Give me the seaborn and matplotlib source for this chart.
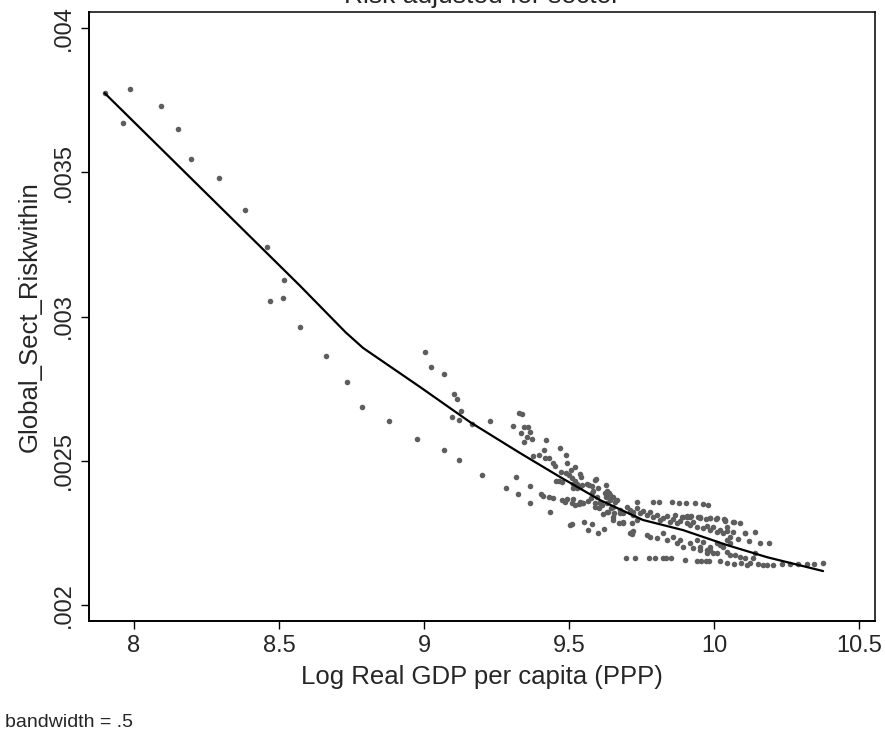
import matplotlib
matplotlib.use("Agg")
import matplotlib.pyplot as plt
import seaborn as sns
import pandas as pd

# scatter points: log real GDP per capita vs Global_Sect_Riskwithin
gdp = [
    7.899, 7.986, 7.962, 8.093, 8.153, 8.198, 8.293, 8.382, 8.459, 8.518,
    8.468, 8.515, 8.571, 8.662, 8.733, 8.785, 8.878, 8.976, 9.069, 9.122,
    9.201, 9.003, 9.023, 9.069, 9.104, 9.114, 9.128, 9.097, 9.122, 9.167,
    9.229, 9.283, 9.323, 9.318, 9.364, 9.364, 9.306, 9.329, 9.338, 9.336,
    9.346, 9.360, 9.367, 9.355, 9.372, 9.345, 9.422, 9.398, 9.376, 9.413,
    9.417, 9.431, 9.469, 9.490, 9.446, 9.452, 9.494, 9.522, 9.507, 9.471,
    9.490, 9.501, 9.538, 9.540, 9.454, 9.467, 9.477, 9.520, 9.513, 9.544,
    9.528, 9.570, 9.591, 9.580, 9.584, 9.599, 9.628, 9.402, 9.409, 9.432,
    9.446, 9.477, 9.493, 9.486, 9.515, 9.538, 9.533, 9.547, 9.521, 9.567,
    9.575, 9.590, 9.607, 9.591, 9.605, 9.615, 9.630, 9.637, 9.628, 9.641,
    9.653, 9.660, 9.644, 9.655, 9.632, 9.616, 9.653, 9.671, 9.436, 9.503,
    9.511, 9.551, 9.578, 9.567, 9.599, 9.622,
    9.509, 9.526, 9.538, 9.561, 9.593, 9.515, 9.578, 9.595, 9.607, 9.624,
    9.509, 9.544, 9.636, 9.653, 9.676, 9.685, 9.716, 9.717,
    9.653, 9.676, 9.687, 9.699, 9.710, 9.722, 9.733, 9.716, 9.687, 9.733,
    9.664, 9.630, 9.641, 9.630,
    9.710, 9.722, 9.733, 9.745, 9.756, 9.768, 9.779, 9.791, 9.802, 9.814,
    9.825, 9.837, 9.848, 9.860, 9.871, 9.883, 9.894, 9.906, 9.917, 9.929,
    9.940, 9.952, 9.963, 9.975, 9.986, 9.998, 10.009, 10.021, 10.032, 10.044,
    10.055, 10.038, 10.066, 10.009, 9.986, 9.906, 9.917,
    9.710, 9.722, 9.768, 9.779, 9.802, 9.825, 9.837, 9.860, 9.871, 9.883,
    9.894, 9.917, 9.929, 9.940, 9.952, 9.963, 9.975, 9.986, 9.998, 10.009,
    10.021, 10.032, 10.044, 10.055, 10.090, 10.107, 10.044,
    9.791, 9.811, 9.855, 9.880, 9.902, 9.935, 9.963, 9.980,
    9.866, 9.889, 9.908, 9.920, 9.946, 9.952, 9.971, 9.986, 10.007, 10.034,
    10.039, 10.069,
    10.067, 10.108, 10.140, 10.084, 10.121, 10.159, 10.190,
    10.009, 10.044, 10.055, 10.072, 10.090, 10.107, 10.136, 10.141, 9.952, 9.986,
    9.975,
    9.697, 9.728, 9.777, 9.798, 9.825, 9.834, 9.853, 9.901, 9.940, 9.954,
    9.972, 9.982, 10.021, 10.046, 10.069, 10.092, 10.115, 10.124, 10.151, 10.170,
    10.182, 10.204, 10.233, 10.262, 10.291, 10.320, 10.345, 10.375,
]
risk = [
    .003774, .003788, .003671, .003730, .003651, .003547, .003481, .003369, .003242, .003127,
    .003053, .003063, .002963, .002864, .002772, .002687, .002638, .002577, .002536, .002502,
    .002451, .002878, .002824, .002801, .002733, .002713, .002672, .002651, .002640, .002628,
    .002638, .002406, .002386, .002445, .002414, .002354, .002622, .002667, .002661, .002597,
    .002618, .002618, .002600, .002583, .002576, .002566, .002572, .002521, .002516, .002536,
    .002509, .002511, .002543, .002521, .002491, .002483, .002491, .002480, .002467, .002460,
    .002457, .002450, .002454, .002443, .002431, .002429, .002426, .002431, .002421, .002415,
    .002406, .002417, .002433, .002414, .002396, .002405, .002417, .002384, .002379, .002373,
    .002371, .002364, .002367, .002356, .002369, .002358, .002350, .002353, .002347, .002360,
    .002370, .002353, .002358, .002339, .002335, .002347, .002353, .002387, .002373, .002364,
    .002376, .002358, .002335, .002320, .002324, .002315, .002295, .002283, .002321, .002277,
    .002282, .002288, .002280, .002260, .002251, .002265,
    .002439, .002420, .002410, .002420, .002436, .002405, .002387, .002376, .002353, .002387,
    .002353, .002355, .002324, .002306, .002318, .002283, .002254, .002246,
    .002341, .002329, .002318, .002341, .002324, .002312, .002295, .002283, .002289, .002358,
    .002364, .002393, .002381, .002395,
    .002329, .002324, .002335, .002318, .002327, .002312, .002324, .002306, .002312, .002295,
    .002301, .002309, .002289, .002297, .002283, .002291, .002304, .002283, .002277, .002289,
    .002271, .002304, .002266, .002274, .002260, .002269, .002254, .002262, .002249, .002258,
    .002237, .002295, .002289, .002301, .002301, .002306, .002304,
    .002249, .002258, .002243, .002237, .002231, .002249, .002225, .002237, .002214, .002225,
    .002202, .002214, .002197, .002225, .002202, .002220, .002191, .002202, .002179, .002214,
    .002208, .002202, .002225, .002214, .002283, .002249, .002271,
    .002356, .002356, .002356, .002353, .002353, .002353, .002350, .002348,
    .002312, .002306, .002309, .002309, .002304, .002301, .002298, .002303, .002299, .002299,
    .002291, .002289,
    .002253, .002249, .002252, .002228, .002223, .002214, .002216,
    .002179, .002185, .002173, .002173, .002168, .002165, .002162, .002179, .002191, .002191,
    .002179,
    .002164, .002165, .002163, .002163, .002163, .002162, .002162, .002156, .002154, .002154,
    .002154, .002154, .002152, .002147, .002142, .002145, .002140, .002145, .002142, .002140,
    .002140, .002140, .002142, .002142, .002142, .002142, .002142, .002145,
]

# lowess fit (bandwidth .5)
fit_gdp = [7.899, 8.228, 8.572, 8.730, 8.790, 8.986, 9.159, 9.331, 9.469,
           9.607, 9.755, 9.893, 10.045, 10.183, 10.376]
fit_risk = [.003774, .003448, .003107, .002945, .002891, .002756, .002634, .002527, .002444,
            .002364, .002295, .002260, .002208, .002166, .002118]

title = "Risk adjusted for sector"
xlab = "Log Real GDP per capita (PPP)"
ylab = "Global_Sect_Riskwithin"
note = "bandwidth = .5"
xticks = [8, 8.5, 9, 9.5, 10, 10.5]
xticklabels = ["8", "8.5", "9", "9.5", "10", "10.5"]
yticks = [.002, .0025, .003, .0035, .004]
yticklabels = [".002", ".0025", ".003", ".0035", ".004"]

pts = pd.DataFrame({"gdp": gdp, "risk": risk})
fit = pd.DataFrame({"gdp": fit_gdp, "risk": fit_risk})

sns.set_style("white")
plt.rcParams["font.family"] = ["Liberation Sans", "DejaVu Sans"]

fig = plt.figure(figsize=(8.85, 7.31), dpi=100)
ax = fig.add_axes([89 / 885, 1 - 621 / 731, (875 - 89) / 885, (621 - 12) / 731])

sns.scatterplot(data=pts, x="gdp", y="risk", ax=ax, color="#5e5e5e", s=16,
                linewidth=0, zorder=2)
sns.lineplot(data=fit, x="gdp", y="risk", ax=ax, color="black", linewidth=1.6,
             sort=False, estimator=None, zorder=3)

ax.set_xlim(7.845, 10.555)
ax.set_ylim(.001945, .004055)
ax.set_xticks(xticks)
ax.set_xticklabels(xticklabels, fontsize=17)
ax.set_yticks(yticks)
ax.set_yticklabels(yticklabels, fontsize=17, rotation=90, va="center")
ax.tick_params(axis="both", direction="out", length=6, width=1, color="black",
               bottom=True, left=True, pad=4)
ax.set_xlabel(xlab, fontsize=18.5, labelpad=6)
ax.set_ylabel(ylab, fontsize=18.5, labelpad=8)
for side in ax.spines.values():
    side.set_color("black")
    side.set_linewidth(1.1)
ax.spines["left"].set_linewidth(1.4)
ax.spines["bottom"].set_linewidth(1.4)

# the title sits mostly above the canvas, as in the original export
fig.text(482 / 885, 1 - 3 / 731, title, fontsize=19, ha="center", va="baseline")
fig.text(5 / 885, 1 - 727 / 731, note, fontsize=14, ha="left", va="baseline")

fig.savefig("out.png", dpi=100, facecolor="white")
